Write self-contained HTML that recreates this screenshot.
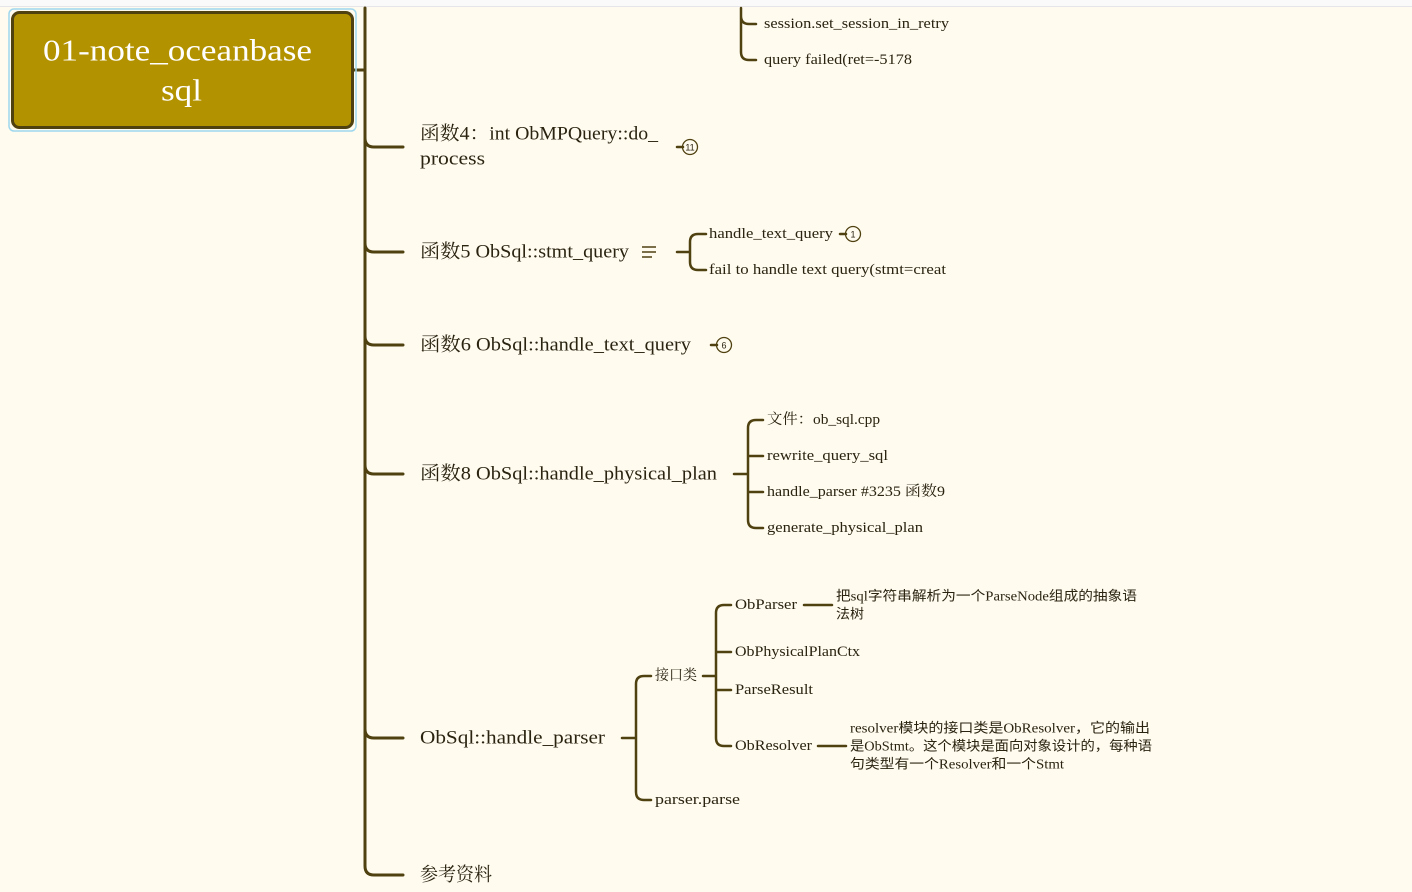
<!DOCTYPE html>
<html><head><meta charset="utf-8"><style>
html,body{margin:0;padding:0;background:#fffbef;}
svg{display:block}
text{font-family:"Liberation Serif","Noto Serif CJK SC",serif;fill:#2a2310;dominant-baseline:central}
.m{font-size:19px}.s{font-size:14.5px}.n{font-size:13.5px;font-family:"Liberation Serif","Noto Sans CJK SC",serif}
</style></head><body>
<svg width="1412" height="892" viewBox="0 0 1412 892" xmlns="http://www.w3.org/2000/svg">
<rect x="0" y="0" width="1412" height="6" fill="#fafafa"/>
<line x1="0" y1="6.5" x2="1412" y2="6.5" stroke="#e6e6ea" stroke-width="1"/>
<g fill="none" stroke="#4f4110" stroke-width="3" stroke-linecap="round">
<path d="M365 8 V866 Q365 875 374 875 H403"/>
<path d="M353 70 H365"/>
<path d="M365 138 Q365 147 374 147 H403"/>
<path d="M365 243 Q365 252 374 252 H403"/>
<path d="M365 336 Q365 345 374 345 H403"/>
<path d="M365 465 Q365 474 374 474 H403"/>
<path d="M365 729 Q365 738 374 738 H403"/>
</g>
<g fill="none" stroke="#4f4110" stroke-width="2.5" stroke-linecap="round">
<path d="M741 8 V16 Q741 24 749 24 H756 M741 16 V52 Q741 60 749 60 H756"/>
<path d="M677 252 H690 M706 234 H698 Q690 234 690 242 V262 Q690 270 698 270 H706"/>
<path d="M734 474 H748 M763 420 H756 Q748 420 748 428 V520 Q748 528 756 528 H763 M748 456 H763 M748 492 H763"/>
<path d="M622 738 H636 M651 676 H644 Q636 676 636 684 V792 Q636 800 644 800 H651"/>
<path d="M703 676 H716 M731 605 H724 Q716 605 716 613 V738 Q716 746 724 746 H731 M716 652 H731 M716 690 H731"/>
<path d="M804 605 H832 M818 746 H846"/>
<path d="M677 147 H683 M840 234 H846 M711 345 H717"/>
</g>
<g fill="none" stroke="#4f4110" stroke-width="1.3">
<circle cx="690" cy="147" r="7.5"/><circle cx="853" cy="234" r="7.5"/><circle cx="724" cy="345" r="7.5"/>
</g>
<g font-family="Liberation Sans" text-anchor="middle"><text x="690" y="147.5" style="font-size:9px;font-family:'Liberation Sans'">11</text><text x="853" y="234.5" style="font-size:9px;font-family:'Liberation Sans'">1</text><text x="724" y="345.5" style="font-size:9px;font-family:'Liberation Sans'">6</text></g>
<g stroke="#4f4110" stroke-width="1.6"><path d="M642 247 H656 M642 252 H656 M642 257 H652"/></g>
<rect x="9" y="9" width="347" height="122" rx="5" fill="none" stroke="#9fd8ee" stroke-width="1.5"/>
<rect x="12.5" y="12.5" width="340" height="115" rx="7" fill="#b39200" stroke="#4f4110" stroke-width="3"/>
<text x="43" y="50" textLength="269" lengthAdjust="spacingAndGlyphs" style="font-size:31px;fill:#fff">01-note_oceanbase</text>
<text x="161" y="90" textLength="41" lengthAdjust="spacingAndGlyphs" style="font-size:31px;fill:#fff">sql</text>
<g lengthAdjust="spacingAndGlyphs">
<text class="s" x="764" y="24" textLength="185" lengthAdjust="spacingAndGlyphs">session.set_session_in_retry</text>
<text class="s" x="764" y="60" textLength="148" lengthAdjust="spacingAndGlyphs">query failed(ret=-5178</text>
<text class="m" x="420" y="134" textLength="238" lengthAdjust="spacingAndGlyphs">函数4：int ObMPQuery::do_</text>
<text class="m" x="420" y="159" textLength="65" lengthAdjust="spacingAndGlyphs">process</text>
<text class="m" x="420" y="252" textLength="209" lengthAdjust="spacingAndGlyphs">函数5 ObSql::stmt_query</text>
<text class="s" x="709" y="234" textLength="124" lengthAdjust="spacingAndGlyphs">handle_text_query</text>
<text class="s" x="709" y="270" textLength="237" lengthAdjust="spacingAndGlyphs">fail to handle text query(stmt=creat</text>
<text class="m" x="420" y="345" textLength="271" lengthAdjust="spacingAndGlyphs">函数6 ObSql::handle_text_query</text>
<text class="m" x="420" y="474" textLength="297" lengthAdjust="spacingAndGlyphs">函数8 ObSql::handle_physical_plan</text>
<text class="s" x="767" y="420" textLength="113" lengthAdjust="spacingAndGlyphs">文件：ob_sql.cpp</text>
<text class="s" x="767" y="456" textLength="121" lengthAdjust="spacingAndGlyphs">rewrite_query_sql</text>
<text class="s" x="767" y="492" textLength="178" lengthAdjust="spacingAndGlyphs">handle_parser #3235 函数9</text>
<text class="s" x="767" y="528" textLength="156" lengthAdjust="spacingAndGlyphs">generate_physical_plan</text>
<text class="m" x="420" y="738" textLength="185" lengthAdjust="spacingAndGlyphs">ObSql::handle_parser</text>
<text class="s" x="655" y="676" textLength="42" lengthAdjust="spacingAndGlyphs">接口类</text>
<text class="s" x="655" y="800" textLength="85" lengthAdjust="spacingAndGlyphs">parser.parse</text>
<text class="s" x="735" y="605" textLength="62" lengthAdjust="spacingAndGlyphs">ObParser</text>
<text class="s" x="735" y="652" textLength="125" lengthAdjust="spacingAndGlyphs">ObPhysicalPlanCtx</text>
<text class="s" x="735" y="690" textLength="78" lengthAdjust="spacingAndGlyphs">ParseResult</text>
<text class="s" x="735" y="746" textLength="77" lengthAdjust="spacingAndGlyphs">ObResolver</text>
<text class="n" x="836" y="596" textLength="301" lengthAdjust="spacingAndGlyphs">把sql字符串解析为一个ParseNode组成的抽象语</text>
<text class="n" x="836" y="614" textLength="28" lengthAdjust="spacingAndGlyphs">法树</text>
<text class="n" x="850" y="728" textLength="300" lengthAdjust="spacingAndGlyphs">resolver模块的接口类是ObResolver，它的输出</text>
<text class="n" x="850" y="746" textLength="302" lengthAdjust="spacingAndGlyphs">是ObStmt。这个模块是面向对象设计的，每种语</text>
<text class="n" x="850" y="764" textLength="214" lengthAdjust="spacingAndGlyphs">句类型有一个Resolver和一个Stmt</text>
<text class="m" x="420" y="875" textLength="72" lengthAdjust="spacingAndGlyphs">参考资料</text>
</g>
</svg>
</body></html>
